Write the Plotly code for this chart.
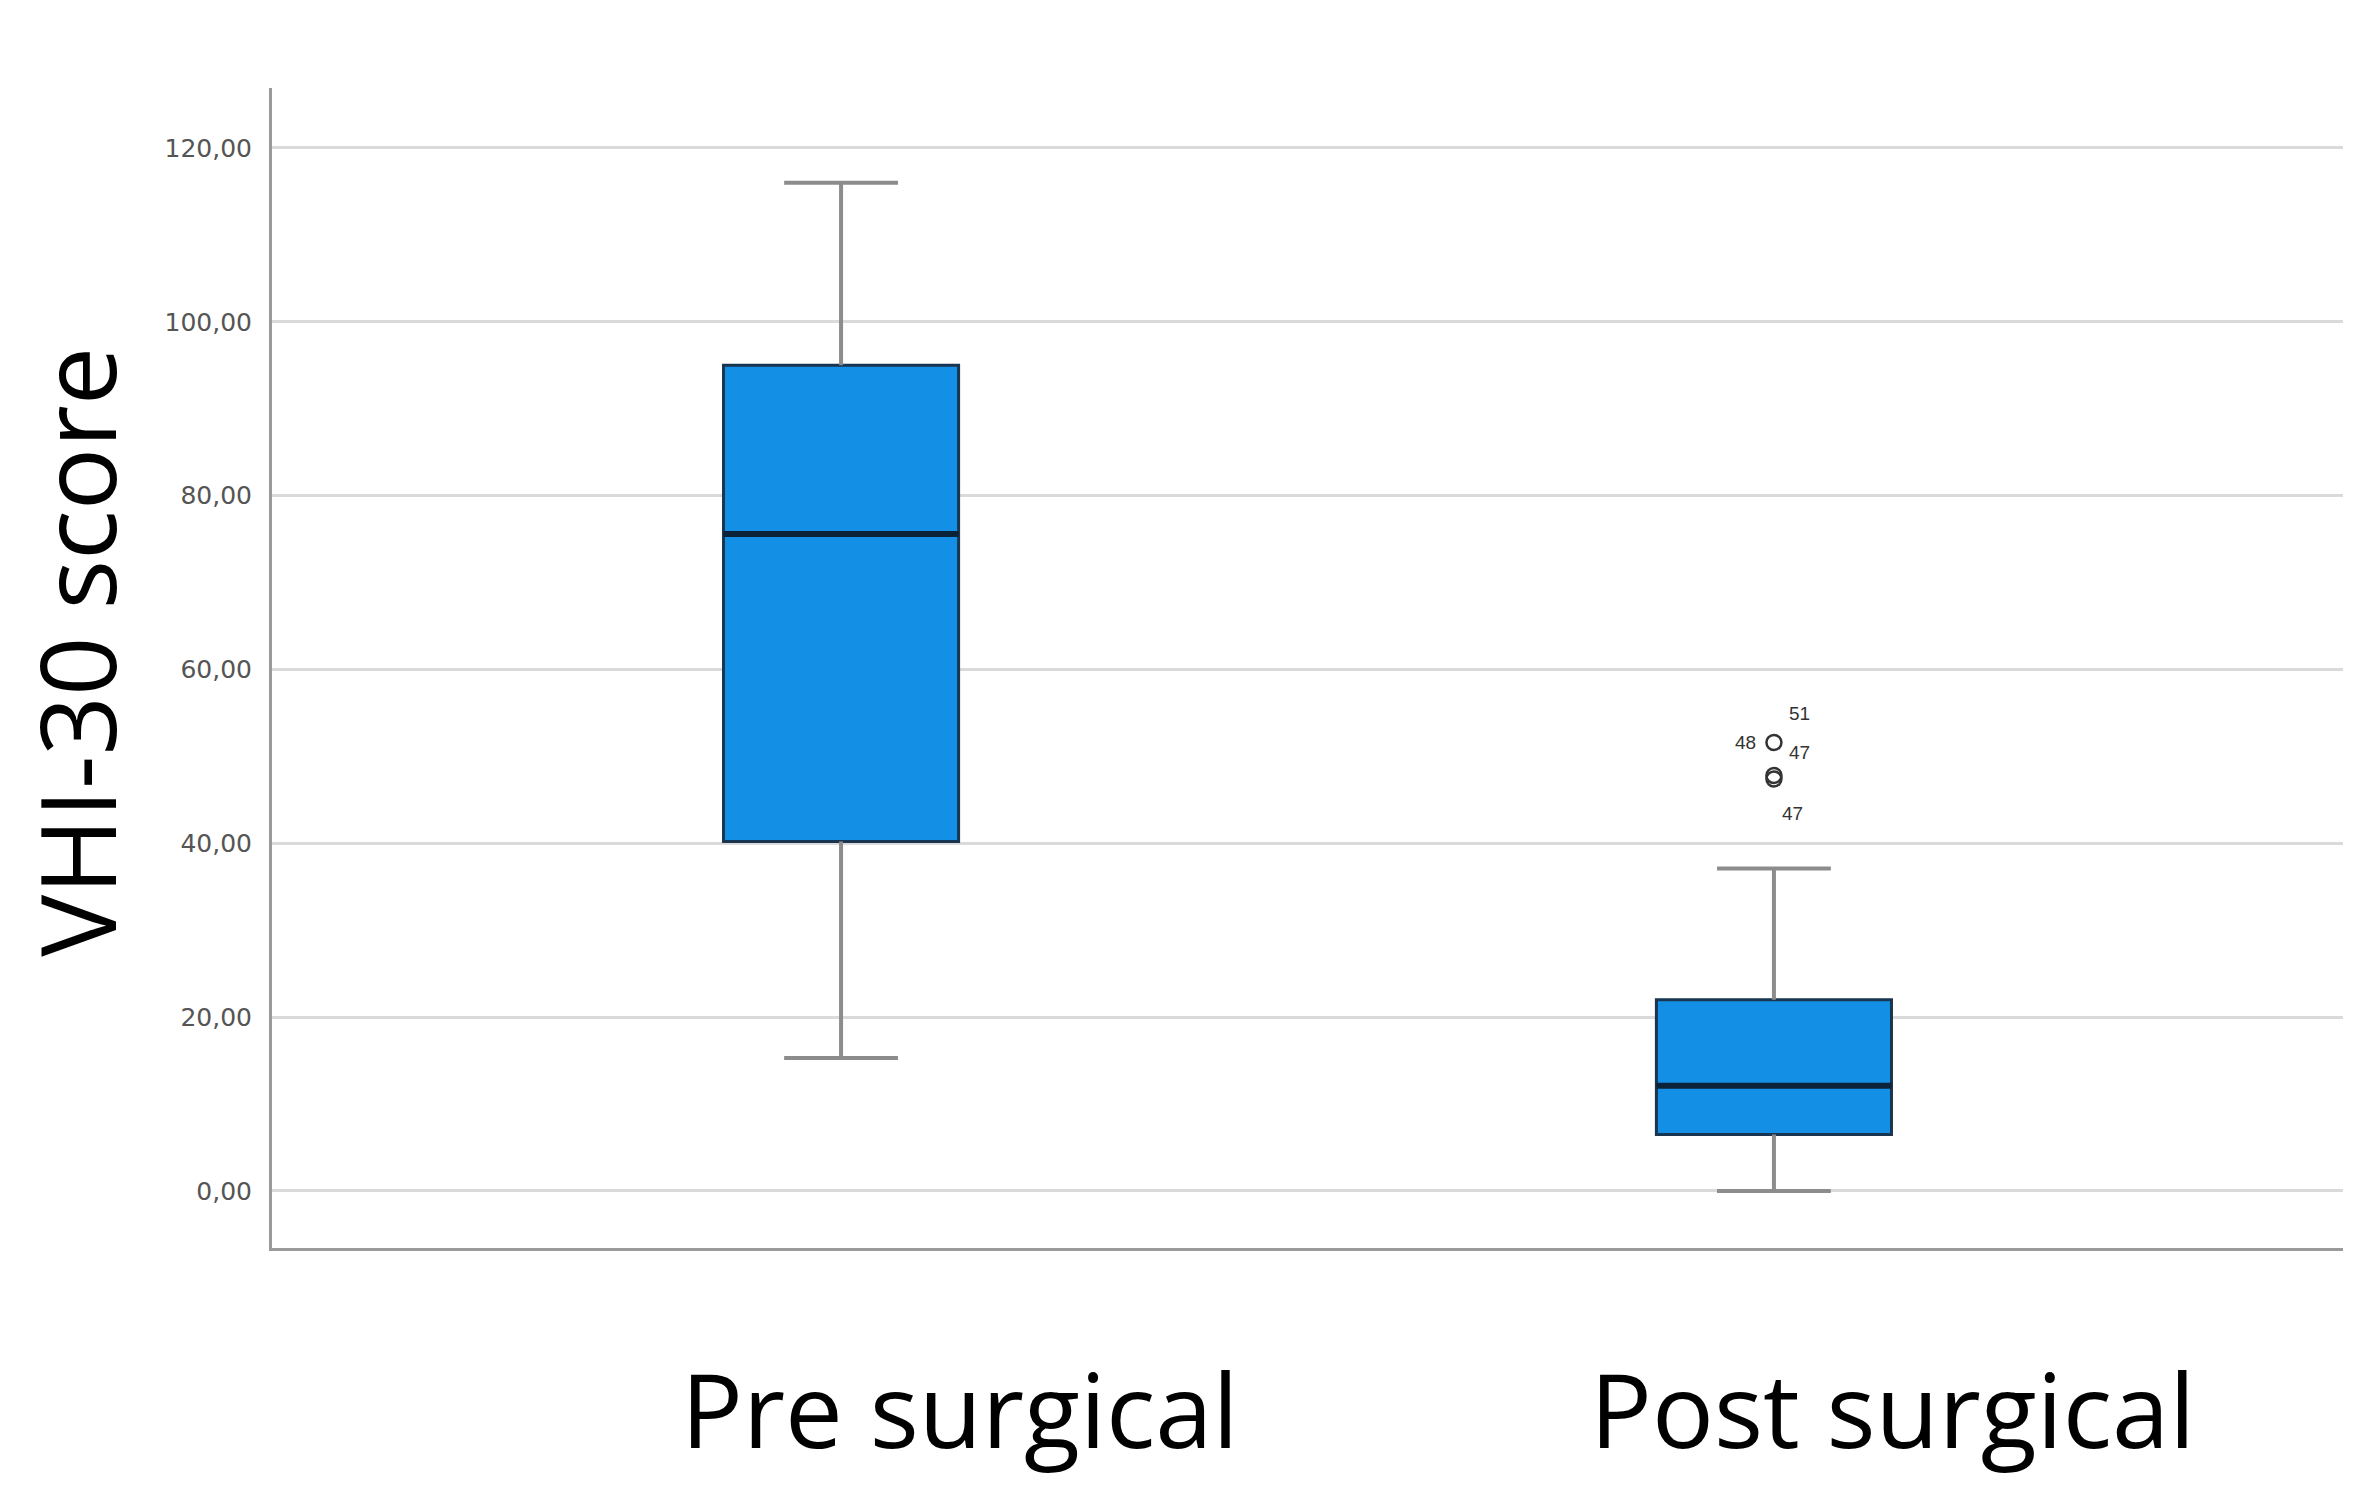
import plotly.graph_objects as go

# ---- data ----
groups = ["Pre surgical", "Post surgical"]
q1 = [40.2, 6.5]
median = [75.6, 12.1]
q3 = [95.0, 22.0]
whisker_low = [15.3, 0.0]
whisker_high = [116.0, 37.1]

outlier_vals = [51.6, 47.8, 47.4]

y_ticks = [0, 20, 40, 60, 80, 100, 120]
y_ticktext = ["0,00", "20,00", "40,00", "60,00", "80,00", "100,00", "120,00"]
y_title = "VHI-30 score"

# outlier case labels: (text, index of outlier it belongs to)
outlier_labels = [("51", 0), ("48", 0), ("47", 0), ("47", 2)]
label_shifts = [(26, 29), (-28, 0), (26, -10), (19, -35)]

# ---- style ----
BOX_W = 0.252
CAP_W = 0.122
FILL = "#1390e6"
EDGE = "#1a3550"
WHISK = "#8c8c8c"

xpos = list(range(len(groups)))

fig = go.Figure()

# whiskers + caps
for i, x in enumerate(xpos):
    for lo, hi in [(whisker_low[i], q1[i]), (q3[i], whisker_high[i])]:
        fig.add_trace(go.Scatter(x=[x, x], y=[lo, hi], mode="lines",
                                 line=dict(color=WHISK, width=4),
                                 showlegend=False, hoverinfo="skip"))
    for v in (whisker_low[i], whisker_high[i]):
        fig.add_trace(go.Scatter(x=[x - CAP_W / 2, x + CAP_W / 2], y=[v, v], mode="lines",
                                 line=dict(color=WHISK, width=4),
                                 showlegend=False, hoverinfo="skip"))

# boxes
fig.add_trace(go.Box(
    x=xpos, q1=q1, median=median, q3=q3,
    lowerfence=q1, upperfence=q3,
    fillcolor=FILL, line=dict(color=EDGE, width=3),
    width=BOX_W, boxpoints=False, showlegend=False, hoverinfo="skip",
))

# medians
for i, x in enumerate(xpos):
    fig.add_trace(go.Scatter(x=[x - BOX_W / 2, x + BOX_W / 2], y=[median[i], median[i]],
                             mode="lines", line=dict(color="#0b2238", width=6),
                             showlegend=False, hoverinfo="skip"))

# outliers (post surgical)
fig.add_trace(go.Scatter(
    x=[1] * len(outlier_vals), y=outlier_vals, mode="markers",
    marker=dict(symbol="circle-open", size=15, color="#333333", line=dict(width=2.5)),
    showlegend=False, hoverinfo="skip",
))
for (lab, idx), (dx, dy) in zip(outlier_labels, label_shifts):
    fig.add_annotation(x=1, y=outlier_vals[idx], text=lab, showarrow=False,
                       xshift=dx, yshift=dy,
                       font=dict(family="Liberation Sans", size=19, color="#333333"))

# category labels (large, below plot)
for i, g in enumerate(groups):
    fig.add_annotation(x=xpos[i], y=0, yref="paper", xref="x", text=g, showarrow=False,
                       xshift=119, yshift=-160, yanchor="middle",
                       font=dict(family="Open Sans", size=103, color="black"))

# y-axis title
fig.add_annotation(x=0, y=0.514, xref="paper", yref="paper", text=y_title,
                   showarrow=False, textangle=-90, xanchor="center", yanchor="middle",
                   xshift=-196, font=dict(family="Open Sans", size=104, color="black"))

fig.update_layout(
    width=2366, height=1502,
    margin=dict(l=264, r=31, t=80, b=262, autoexpand=False),
    plot_bgcolor="white", paper_bgcolor="white",
    xaxis=dict(range=[-0.610, 1.610], showticklabels=False, showgrid=False,
               zeroline=False, showline=True, linecolor="#9a9a9a", linewidth=3,
               ticks="", automargin=False),
    yaxis=dict(range=[-6.56, 126.9], tickvals=y_ticks, ticktext=y_ticktext,
               automargin=False,
               showgrid=True, gridcolor="#dadada", gridwidth=3, zeroline=False,
               showline=True, linecolor="#9a9a9a", linewidth=3, ticks="",
               ticklabelstandoff=12,
               tickfont=dict(family="DejaVu Sans", size=25, color="#555555")),
)

fig.write_html("out.html")
